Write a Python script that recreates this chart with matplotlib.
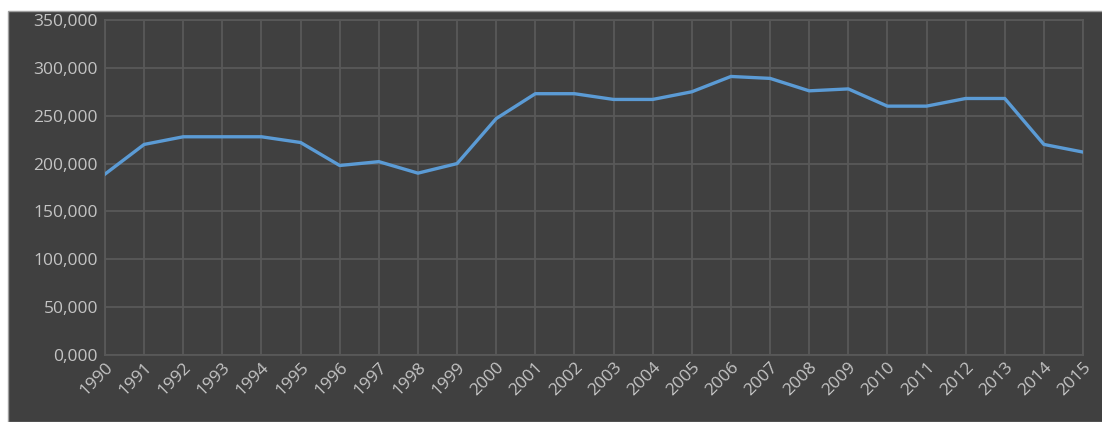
import matplotlib.pyplot as plt
from matplotlib.patches import Rectangle
from matplotlib.ticker import FuncFormatter

years = list(range(1990, 2016))
values = [189000, 220000, 228000, 228000, 228000, 222000, 198000, 202000, 190000, 200000,
          247000, 273000, 273000, 267000, 267000, 275000, 291000, 289000, 276000, 278000,
          260000, 260000, 268000, 268000, 220000, 212000]
y_ticks = [0, 50000, 100000, 150000, 200000, 250000, 300000, 350000]

bg = '#404040'
grid_c = '#595959'
text_c = '#c4c4c4'

plt.rcParams['font.family'] = ['Open Sans', 'DejaVu Sans']

fig = plt.figure(figsize=(11.02, 4.22), dpi=100, facecolor='white')
fig.patches.append(Rectangle((8 / 1102, 0), 1, (422 - 11) / 422, transform=fig.transFigure,
                             facecolor=bg, edgecolor='#a0a0a0', linewidth=1, zorder=-10))

ax = fig.add_axes([105 / 1102, 1 - 355 / 422, (1083 - 105) / 1102, (355 - 20) / 422])
ax.set_facecolor(bg)
ax.plot(years, values, color='#5b9bd5', linewidth=2.4, zorder=3)

ax.set_xlim(1990, 2015)
ax.set_ylim(0, 350000)
ax.set_xticks(years)
ax.set_xticklabels([str(y) for y in years], rotation=45, ha='right', rotation_mode='anchor')
ax.set_yticks(y_ticks)
ax.yaxis.set_major_formatter(FuncFormatter(lambda v, p: '0,000' if v == 0 else f'{int(v):,}'))
ax.grid(True, color=grid_c, linewidth=1.3)
ax.tick_params(length=0, colors=text_c, labelsize=12.5, pad=5)
ax.tick_params(axis='x', pad=3)
for s in ax.spines.values():
    s.set_color(grid_c)
    s.set_linewidth(1.3)

fig.savefig('out.png', dpi=100, facecolor=fig.get_facecolor())
